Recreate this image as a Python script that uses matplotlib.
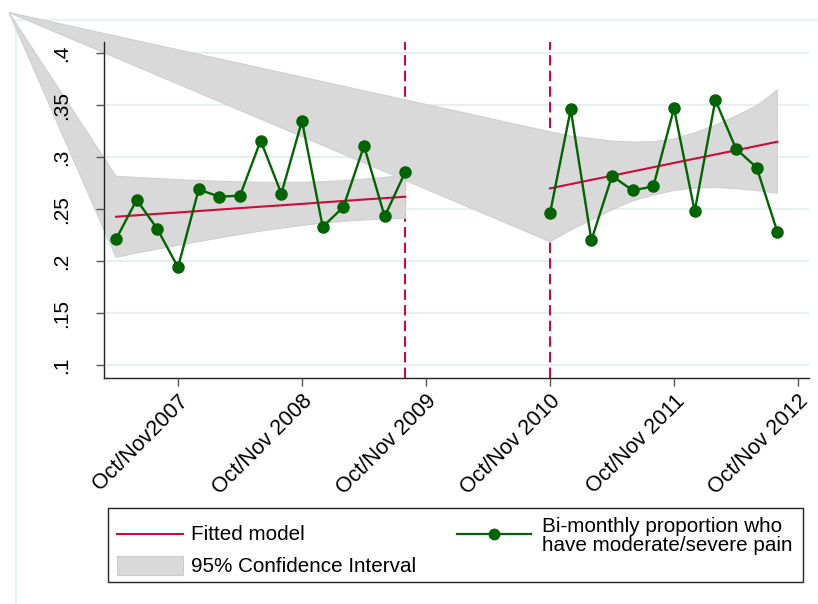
import matplotlib
matplotlib.use('Agg')
import matplotlib.pyplot as plt
from matplotlib.patches import Polygon, Rectangle
from matplotlib.lines import Line2D

plt.rcParams['font.family'] = ['Liberation Sans', 'DejaVu Sans']

# time axis in bi-monthly periods, 0 = Oct/Nov 2007
pre_t = [-3, -2, -1, 0, 1, 2, 3, 4, 5, 6, 7, 8, 9, 10, 11]
pre_prop = [0.221, 0.259, 0.231, 0.194, 0.269, 0.262, 0.263, 0.316, 0.265,
            0.335, 0.233, 0.252, 0.311, 0.243, 0.286]
pre_fit = [0.2427, 0.2441, 0.2455, 0.2468, 0.2482, 0.2496, 0.2510, 0.2524,
           0.2537, 0.2551, 0.2565, 0.2579, 0.2593, 0.2606, 0.2620]
pre_lo = [0.2037, 0.2077, 0.2115, 0.2152, 0.2188, 0.2223, 0.2257, 0.2289,
          0.2317, 0.2343, 0.2365, 0.2383, 0.2397, 0.2406, 0.2412]
pre_hi = [0.2817, 0.2805, 0.2795, 0.2784, 0.2776, 0.2769, 0.2763, 0.2759,
          0.2757, 0.2759, 0.2765, 0.2775, 0.2789, 0.2806, 0.2828]

post_t = [18, 19, 20, 21, 22, 23, 24, 25, 26, 27, 28, 29]
post_prop = [0.246, 0.346, 0.220, 0.282, 0.268, 0.272, 0.347, 0.248, 0.355,
             0.308, 0.290, 0.228]
post_fit = [0.2700, 0.2741, 0.2782, 0.2822, 0.2863, 0.2904, 0.2945, 0.2986,
            0.3026, 0.3067, 0.3108, 0.3149]
post_lo = [0.2187, 0.2299, 0.2396, 0.2494, 0.2580, 0.2636, 0.2680, 0.2703,
           0.2709, 0.2698, 0.2679, 0.2653]
post_hi = [0.3245, 0.3204, 0.3180, 0.3155, 0.3146, 0.3150, 0.3176, 0.3234,
           0.3310, 0.3397, 0.3495, 0.3647]

break_t = [11, 18]
x_ticks = [0, 6, 12, 18, 24, 30]
x_labels = ['Oct/Nov2007', 'Oct/Nov 2008', 'Oct/Nov 2009', 'Oct/Nov 2010',
            'Oct/Nov 2011', 'Oct/Nov 2012']
y_ticks = [0.1, 0.15, 0.2, 0.25, 0.3, 0.35, 0.4]
y_labels = ['.1', '.15', '.2', '.25', '.3', '.35', '.4']

RED = '#cc0a3c'
GREEN = '#006400'
FILL = '#d9d9d9'
GRID = '#e6eff1'

W, H = 818, 604


def px(x, y):
    """pixel position -> figure fraction"""
    return x / W, 1 - y / H


fig = plt.figure(figsize=(W / 100, H / 100), dpi=100)
fig.patch.set_facecolor('white')

# faint outer region frame
fig.add_artist(Line2D([16 / W, 16 / W], [0, px(0, 19.5)[1]], color=GRID, lw=1.2, zorder=0))
fig.add_artist(Line2D([16 / W, 1], [px(0, 19.5)[1]] * 2, color=GRID, lw=1.2, zorder=0))

ax = fig.add_axes([104 / W, 1 - 378 / H, 705 / W, 336 / H])
ax.set_xlim(-3.58, 30.53)
ax.set_ylim(0.0875, 0.4109)
ax.set_facecolor('none')
ax.set_axisbelow(False)

for s in ['top', 'right']:
    ax.spines[s].set_visible(False)
for s in ['left', 'bottom']:
    ax.spines[s].set_color('#222222')
    ax.spines[s].set_linewidth(1.0)

ax.set_yticks(y_ticks)
ax.set_yticklabels(y_labels, rotation=90, va='center', fontsize=15)
ax.set_xticks(x_ticks)
ax.set_xticklabels(x_labels, rotation=45, ha='right', rotation_mode='anchor',
                   fontsize=15.5)
ax.tick_params(axis='y', length=6, width=1, color='#555555', pad=18)
ax.tick_params(axis='x', length=6, width=1, color='#555555', pad=3)

# horizontal grid kept underneath the bands
for yv in y_ticks:
    ax.axhline(yv, color=GRID, lw=1.5, zorder=0)

for b in break_t:
    ax.axvline(b, color=RED, lw=1.5, ls=(0, (5, 2.5)), zorder=1)

# the confidence bands are anchored to a stray vertex at the graph origin
corner = ax.transData.inverted().transform(
    fig.transFigure.transform(px(9, 12.5)))
for t, lo, hi in [(pre_t, pre_lo, pre_hi), (post_t, post_lo, post_hi)]:
    verts = [tuple(corner)] + list(zip(t, hi)) + list(zip(t[::-1], lo[::-1]))
    ax.add_patch(Polygon(verts, closed=True, facecolor=FILL, edgecolor='#d0d0d0',
                         lw=0.8, zorder=2, clip_on=False))

ax.plot(pre_t, pre_fit, color=RED, lw=1.5, zorder=3)
ax.plot(post_t, post_fit, color=RED, lw=1.5, zorder=3)

ax.plot(pre_t, pre_prop, color=GREEN, lw=1.7, marker='o', ms=8, zorder=4)
ax.plot(post_t, post_prop, color=GREEN, lw=1.7, marker='o', ms=8, zorder=4)

# legend box
LEG_FS = 14.9
x0, y0 = px(108, 582)
x1, y1 = px(803, 508)
fig.add_artist(Rectangle((x0, y0), x1 - x0, y1 - y0, facecolor='white',
                         edgecolor='#222222', lw=1.0))
fig.add_artist(Line2D([117 / W, 183 / W], [px(0, 534)[1]] * 2, color=RED, lw=1.5))
cx0, cy0 = px(117, 575)
cx1, cy1 = px(183, 556)
fig.add_artist(Rectangle((cx0, cy0), cx1 - cx0, cy1 - cy0, facecolor=FILL,
                         edgecolor='#cccccc', lw=0.8))
fig.add_artist(Line2D([457 / W, 531 / W], [px(0, 534)[1]] * 2, color=GREEN, lw=1.6))
fig.add_artist(Line2D([494 / W], [px(0, 534)[1]], color=GREEN, marker='o', ms=7.5))
fig.text(*px(191, 535), 'Fitted model', fontsize=LEG_FS, va='center', ha='left')
fig.text(*px(191, 567), '95% Confidence Interval', fontsize=LEG_FS, va='center', ha='left')
fig.text(*px(542, 536), 'Bi-monthly proportion who\nhave moderate/severe pain',
         fontsize=LEG_FS, va='center', ha='left', linespacing=1.0)

fig.savefig('out.png', dpi=100)
